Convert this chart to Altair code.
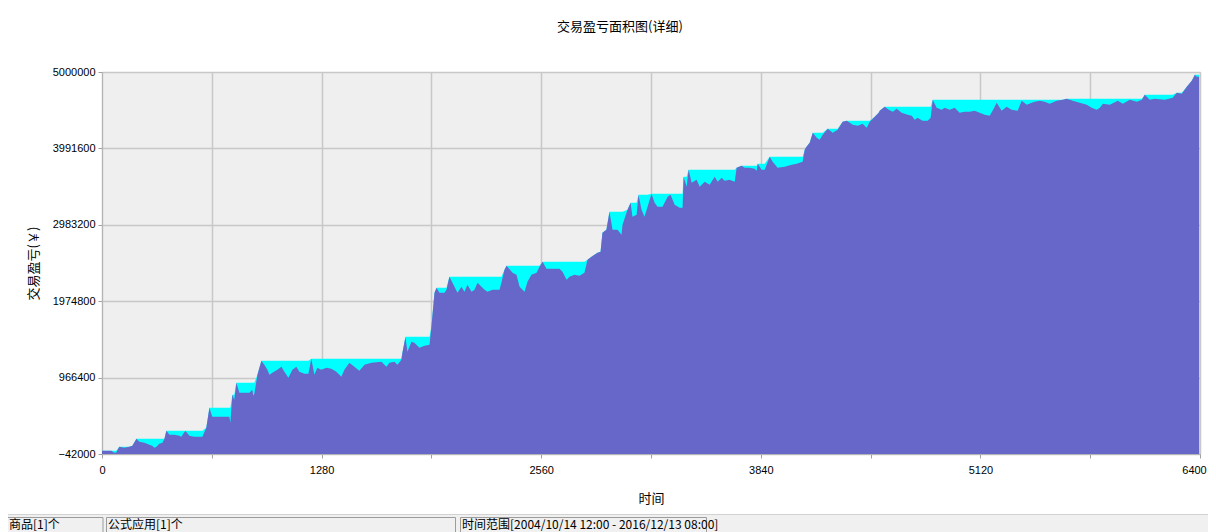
import altair as alt
import pandas as pd

# trade index (x) and cumulative profit/loss in yuan (y)
trade_no = [
    0, 54, 72, 83, 101, 130, 159, 177, 194, 200,
    218, 247, 276, 293, 305, 317, 334, 352, 364, 375,
    393, 422, 451, 462, 486, 509, 538, 567, 585, 608,
    626, 643, 684, 713, 742, 748, 760, 771, 783, 801,
    830, 859, 876, 882, 888, 906, 929, 946, 964, 976,
    993, 1022, 1046, 1063, 1075, 1086, 1110, 1133, 1150, 1180,
    1203, 1220, 1238, 1255, 1278, 1308, 1337, 1366, 1395, 1413,
    1442, 1471, 1500, 1530, 1570, 1629, 1658, 1675, 1704, 1722,
    1745, 1751, 1769, 1780, 1804, 1821, 1850, 1880, 1909, 1920,
    1938, 1950, 1967, 1996, 2008, 2025, 2043, 2072, 2095, 2113,
    2130, 2154, 2171, 2189, 2212, 2230, 2247, 2276, 2317, 2328,
    2346, 2358, 2393, 2416, 2434, 2463, 2480, 2503, 2533, 2550,
    2568, 2591, 2638, 2667, 2684, 2708, 2725, 2754, 2783, 2812,
    2830, 2853, 2888, 2906, 2917, 2940, 2958, 2976, 3005, 3028,
    3034, 3063, 3081, 3092, 3116, 3127, 3145, 3162, 3180, 3203,
    3221, 3238, 3267, 3297, 3314, 3338, 3367, 3384, 3390, 3408,
    3419, 3437, 3466, 3484, 3513, 3542, 3571, 3589, 3612, 3629,
    3658, 3688, 3699, 3728, 3746, 3775, 3804, 3816, 3822, 3845,
    3863, 3892, 3909, 3938, 3979, 4020, 4049, 4084, 4096, 4102,
    4125, 4143, 4166, 4183, 4201, 4230, 4259, 4288, 4317, 4341,
    4376, 4405, 4434, 4457, 4475, 4504, 4527, 4533, 4562, 4586,
    4609, 4632, 4661, 4696, 4720, 4737, 4754, 4783, 4813, 4830,
    4842, 4865, 4894, 4912, 4941, 4970, 4999, 5028, 5057, 5086,
    5116, 5145, 5174, 5191, 5215, 5244, 5273, 5302, 5337, 5361,
    5390, 5419, 5436, 5466, 5495, 5524, 5565, 5600, 5623, 5658,
    5699, 5740, 5769, 5798, 5816, 5834, 5874, 5921, 5950, 5991,
    6032, 6061, 6078, 6107, 6136, 6195, 6241, 6265, 6294, 6323,
    6352, 6370, 6381, 6395,
]

equity = [
    2000, 2000, -25000, -21000, 54000, 41000, 54000, 68000, 134000, 160000,
    120000, 107000, 81000, 68000, 41000, 54000, 94000, 107000, 160000, 266000,
    213000, 213000, 200000, 186000, 266000, 200000, 186000, 186000, 186000, 305000,
    569000, 450000, 450000, 450000, 450000, 371000, 741000, 675000, 899000, 767000,
    767000, 767000, 807000, 728000, 754000, 1005000, 1189000, 1137000, 1071000, 1005000,
    1031000, 1071000, 1110000, 1044000, 1005000, 965000, 1071000, 1110000, 1044000, 1018000,
    1018000, 1216000, 1005000, 1097000, 1071000, 1097000, 1084000, 1044000, 978000, 1071000,
    1163000, 1110000, 1057000, 1137000, 1163000, 1176000, 1110000, 1163000, 1176000, 1137000,
    1203000, 1295000, 1506000, 1308000, 1440000, 1427000, 1361000, 1387000, 1401000, 1638000,
    2087000, 2153000, 2087000, 2087000, 2127000, 2298000, 2219000, 2087000, 2166000, 2100000,
    2193000, 2100000, 2127000, 2219000, 2166000, 2127000, 2100000, 2127000, 2127000, 2219000,
    2391000, 2443000, 2351000, 2325000, 2166000, 2100000, 2232000, 2325000, 2351000, 2430000,
    2496000, 2404000, 2404000, 2404000, 2364000, 2259000, 2298000, 2325000, 2311000, 2351000,
    2523000, 2562000, 2615000, 2628000, 2879000, 2919000, 3156000, 2919000, 2919000, 2853000,
    2985000, 3183000, 3275000, 3090000, 3117000, 3381000, 3183000, 3090000, 3222000, 3394000,
    3275000, 3222000, 3222000, 3354000, 3381000, 3249000, 3209000, 3209000, 3618000, 3486000,
    3710000, 3539000, 3578000, 3486000, 3552000, 3512000, 3618000, 3552000, 3605000, 3565000,
    3578000, 3552000, 3737000, 3763000, 3737000, 3737000, 3724000, 3697000, 3790000, 3710000,
    3710000, 3882000, 3816000, 3737000, 3750000, 3776000, 3790000, 3816000, 3974000, 4001000,
    4067000, 4199000, 4133000, 4106000, 4172000, 4252000, 4199000, 4238000, 4344000, 4357000,
    4304000, 4291000, 4318000, 4265000, 4344000, 4410000, 4463000, 4489000, 4542000, 4502000,
    4476000, 4516000, 4463000, 4436000, 4423000, 4370000, 4397000, 4357000, 4357000, 4397000,
    4634000, 4529000, 4502000, 4529000, 4502000, 4529000, 4463000, 4476000, 4476000, 4489000,
    4463000, 4436000, 4423000, 4489000, 4595000, 4489000, 4542000, 4502000, 4489000, 4621000,
    4568000, 4595000, 4608000, 4621000, 4608000, 4582000, 4621000, 4634000, 4648000, 4621000,
    4595000, 4568000, 4529000, 4502000, 4529000, 4582000, 4568000, 4621000, 4582000, 4634000,
    4608000, 4634000, 4700000, 4634000, 4648000, 4634000, 4661000, 4727000, 4714000, 4806000,
    4885000, 4964000, 4938000, 4938000,
]

x_grid = [0, 640, 1280, 1920, 2560, 3200, 3840, 4480, 5120, 5760, 6400]
y_ticks = [-42000, 966400, 1974800, 2983200, 3991600, 5000000]
x_domain = [0, 6400]
y_domain = [-42000, 5000000]

title_text = "交易盈亏面积图(详细)"
x_title = "时间"
y_title = "交易盈亏(￥)"
status_texts = ["商品[1]个", "公式应用[1]个", "时间范围[2004/10/14 12:00 - 2016/12/13 08:00]"]

df = pd.DataFrame({"trade": trade_no, "equity": equity})

CJK = "Noto Sans CJK SC"
NUM = "Liberation Sans"

x_scale = alt.Scale(domain=x_domain, nice=False, zero=False)
y_scale = alt.Scale(domain=y_domain, nice=False, zero=False)

x_axis = alt.Axis(
    values=x_grid,
    labelExpr="datum.value % 1280 === 0 ? datum.label : ''",
    format="d",
    labelFlush=False,
    labelOffset={"condition": {"test": "datum.value === 6400", "value": -6}, "value": 0},
    title=x_title,
    titleX=549, titleY=44, titleBaseline="middle", titleAlign="center",
    tickSize=4, labelPadding=6,
)
y_axis = alt.Axis(
    values=y_ticks,
    format="d",
    labelFlush=False,
    title=y_title,
    titleX=-69, titleY=191, titleBaseline="middle", titleAlign="center", titleAngle=-90,
    tickSize=4, labelPadding=3,
)

peak_area = (
    alt.Chart(df)
    .transform_window(peak="max(equity)", frame=[None, 0], sort=[alt.SortField("trade", order="ascending")])
    .mark_area(color="#00FFFF", clip=True, interpolate="linear", opacity=1)
    .encode(
        x=alt.X("trade:Q", scale=x_scale, axis=x_axis),
        y=alt.Y("peak:Q", scale=y_scale, axis=y_axis),
        y2=alt.datum(-42000),
    )
)

equity_area = (
    alt.Chart(df)
    .mark_area(color="#6767C9", clip=True, interpolate="linear", opacity=1)
    .encode(
        x=alt.X("trade:Q", scale=x_scale, axis=x_axis),
        y=alt.Y("equity:Q", scale=y_scale, axis=y_axis),
        y2=alt.datum(-42000),
    )
)

one = alt.Data(values=[{}])

title_mark = alt.Chart(one).mark_text(
    text=title_text, font=CJK, fontSize=13, color="#000000", align="center", baseline="middle"
).encode(x=alt.value(518), y=alt.value(-45))

status_bg = alt.Chart(one).mark_rect(fill="#F0F0F0").encode(
    x=alt.value(-94), x2=alt.value(1114), y=alt.value(442), y2=alt.value(460)
)
status_line = alt.Chart(one).mark_rule(color="#D2D2D2", strokeWidth=1).encode(
    x=alt.value(-94), x2=alt.value(1114), y=alt.value(442.5)
)
panel1 = alt.Chart(one).mark_rect(fill="#F0F0F0", stroke="#9C9C9C", strokeWidth=1).encode(
    x=alt.value(-96), x2=alt.value(1), y=alt.value(445.5), y2=alt.value(470)
)
panel2 = alt.Chart(one).mark_rect(fill="#F0F0F0", stroke="#9C9C9C", strokeWidth=1).encode(
    x=alt.value(4.5), x2=alt.value(353.5), y=alt.value(445.5), y2=alt.value(470)
)
panel3 = alt.Chart(one).mark_rect(fill="#F0F0F0", stroke="#9C9C9C", strokeWidth=1).encode(
    x=alt.value(358.5), x2=alt.value(604.5), y=alt.value(445.5), y2=alt.value(470)
)
status1 = alt.Chart(one).mark_text(
    text=status_texts[0], font=CJK, fontSize=12, color="#000000", align="left", baseline="middle"
).encode(x=alt.value(-93), y=alt.value(452.5))
status2 = alt.Chart(one).mark_text(
    text=status_texts[1], font=CJK, fontSize=12, color="#000000", align="left", baseline="middle"
).encode(x=alt.value(6), y=alt.value(452.5))
status3 = alt.Chart(one).mark_text(
    text=status_texts[2], font=CJK, fontSize=12, color="#000000", align="left", baseline="middle"
).encode(x=alt.value(360), y=alt.value(452.5))

chart = (
    alt.layer(
        peak_area, equity_area, title_mark,
        status_bg, status_line, panel1, panel2, panel3,
        status1, status2, status3,
    )
    .properties(
        width=1098,
        height=382,
        autosize=alt.AutoSizeParams(type="none"),
        padding={"left": 94, "top": 64, "right": 8, "bottom": 78},
        background="#FFFFFF",
    )
    .configure_view(fill="#EFEFEF", stroke="#C4C4C4", strokeWidth=1)
    .configure_axis(
        grid=True,
        gridColor="#C8C8C8",
        gridWidth=1.5,
        domainColor="#B4B4B4",
        tickColor="#A0A0A0",
        labelFont=NUM,
        labelFontSize=11,
        labelColor="#000000",
        titleFont=CJK,
        titleFontSize=13,
        titleFontWeight="normal",
        titleColor="#000000",
    )
)

chart.save("out.html", embed_options={"renderer": "svg", "actions": False})
